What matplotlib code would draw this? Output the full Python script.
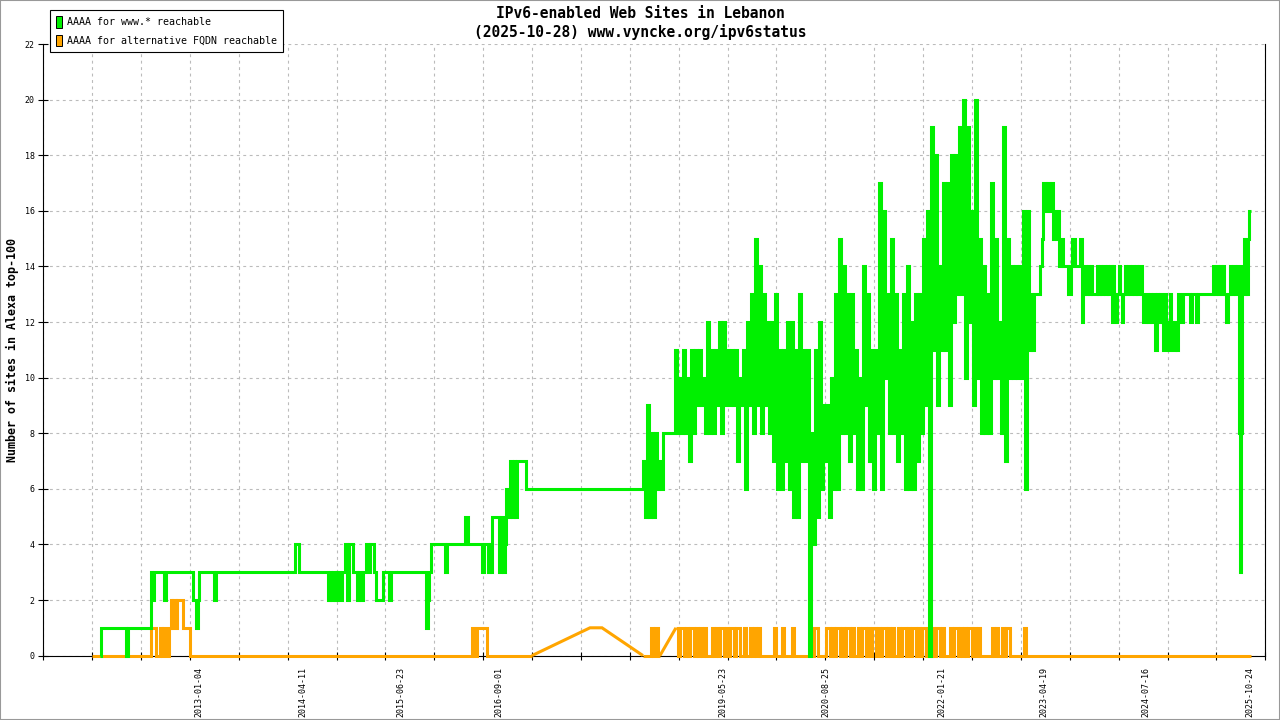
import datetime as dt
import numpy as np
import matplotlib
matplotlib.use("Agg")
import matplotlib.pyplot as plt
import matplotlib.patches as mpatches

# ---------------- data ----------------
TITLE = "IPv6-enabled Web Sites in Lebanon"
SUBTITLE = "(2025-10-28) www.vyncke.org/ipv6status"
YLABEL = "Number of sites in Alexa top-100"
SERIES_NAMES = ["AAAA for www.* reachable", "AAAA for alternative FQDN reachable"]
DATE_LABELS = ["2013-01-04", "2014-04-11", "2015-06-23", "2016-09-01", "2019-05-23",
               "2020-08-25", "2022-01-21", "2023-04-19", "2024-07-16", "2025-10-24"]
Y_TICKS = list(range(0, 23, 2))
X_RANGE = (2011.114, 2025.998)   # decimal years

# www.* series (decimal year, value), step-wise
www_early_years = [2011.804, 2011.817, 2012.121, 2012.146, 2012.426, 2012.438, 2012.462, 2012.584,
                   2012.608, 2012.937, 2012.974, 2012.998, 2013.010, 2013.193, 2013.217, 2014.180,
                   2014.228, 2014.581, 2014.606, 2014.618, 2014.642, 2014.667, 2014.679, 2014.691,
                   2014.703, 2014.728, 2014.752, 2014.789, 2014.813, 2014.837, 2014.886, 2014.935,
                   2014.959, 2014.983, 2015.008, 2015.044, 2015.081, 2015.093, 2015.142, 2015.166,
                   2015.251, 2015.324, 2015.349, 2015.775, 2015.799, 2015.812, 2015.836, 2016.007,
                   2016.031, 2016.250, 2016.287, 2016.457, 2016.481, 2016.530, 2016.555, 2016.567,
                   2016.579, 2016.664, 2016.689, 2016.713, 2016.737, 2016.750, 2016.774, 2016.798,
                   2016.823, 2016.847, 2016.859, 2016.884, 2016.993]
www_early_vals = [0, 1, 0, 1, 3, 2, 3, 2,
                  3, 2, 1, 2, 3, 2, 3, 4,
                  3, 2, 3, 2, 3, 2, 3, 2,
                  3, 2, 3, 4, 2, 4, 3, 2,
                  3, 2, 3, 4, 3, 4, 3, 2,
                  3, 2, 3, 1, 2, 3, 4, 3,
                  4, 5, 4, 3, 4, 3, 4, 3,
                  5, 3, 5, 3, 4, 6, 5, 7,
                  5, 7, 5, 7, 6]

www_dense_start = 2018.418
www_dense_step = 0.02436
www_dense_vals = [
    7, 5, 9, 5, 8, 5, 8, 6, 7, 6, 8, 8, 8, 8, 8, 8, 11, 8, 10, 8,
    11, 8, 10, 7, 11, 8, 11, 9, 11, 9, 10, 8, 12, 8, 11, 8, 11, 9, 12, 8,
    12, 9, 11, 9, 11, 9, 11, 7, 10, 9, 11, 6, 12, 9, 13, 8, 15, 9, 14, 8,
    13, 9, 12, 8, 12, 7, 13, 6, 11, 6, 11, 7, 12, 6, 12, 5, 11, 5, 13, 7,
    11, 7, 11, 0, 8, 4, 11, 5, 12, 6, 9, 7, 9, 5, 10, 6, 13, 6, 15, 8,
    14, 8, 13, 7, 13, 8, 11, 6, 10, 6, 14, 9, 13, 7, 11, 6, 11, 8, 17, 6,
    16, 10, 13, 8, 15, 8, 13, 7, 11, 8, 13, 6, 14, 6, 12, 6, 13, 7, 13, 8,
    15, 9, 16, 0, 19, 11, 18, 9, 14, 11, 17, 11, 17, 9, 18, 12, 18, 13, 19, 13,
    20, 10, 19, 12, 16, 9, 20, 10, 15, 8, 14, 8, 13, 8, 17, 10, 15, 10, 12, 8,
    19, 7, 15, 10, 14, 10, 14, 10, 14, 10, 16, 6, 16, 11]

www_late_years = [2023.144, 2023.156, 2023.181, 2023.254, 2023.278, 2023.290, 2023.327, 2023.339,
                  2023.375, 2023.388, 2023.412, 2023.424, 2023.449, 2023.473, 2023.485, 2023.509,
                  2023.534, 2023.595, 2023.631, 2023.643, 2023.680, 2023.741, 2023.765, 2023.777,
                  2023.802, 2023.814, 2023.838, 2023.850, 2023.875, 2023.887, 2023.948, 2023.960,
                  2023.984, 2023.996, 2024.021, 2024.045, 2024.070, 2024.082, 2024.106, 2024.131,
                  2024.143, 2024.155, 2024.179, 2024.192, 2024.216, 2024.228, 2024.252, 2024.265,
                  2024.289, 2024.301, 2024.325, 2024.350, 2024.374, 2024.399, 2024.423, 2024.435,
                  2024.459, 2024.496, 2024.508, 2024.545, 2024.569, 2024.593, 2024.606, 2024.630,
                  2024.654, 2024.679, 2024.691, 2024.715, 2024.740, 2024.752, 2024.776, 2024.788,
                  2024.813, 2024.837, 2024.849, 2024.874, 2024.898, 2024.922, 2024.934, 2024.959,
                  2024.995, 2025.081, 2025.105, 2025.154, 2025.178, 2025.361, 2025.373, 2025.397,
                  2025.422, 2025.446, 2025.458, 2025.483, 2025.495, 2025.519, 2025.544, 2025.568,
                  2025.580, 2025.604, 2025.629, 2025.653, 2025.677, 2025.690, 2025.702, 2025.714,
                  2025.738, 2025.750, 2025.763, 2025.775, 2025.790, 2025.805, 2025.822]
www_late_vals = [13, 11, 13, 14, 15, 17, 16, 17,
                 16, 17, 15, 16, 15, 16, 14, 15,
                 14, 13, 14, 15, 14, 15, 12, 13,
                 14, 13, 14, 13, 14, 13, 14, 13,
                 14, 13, 14, 13, 14, 13, 14, 12,
                 14, 13, 12, 13, 14, 13, 12, 13,
                 14, 13, 14, 13, 14, 13, 14, 13,
                 14, 13, 12, 13, 12, 13, 12, 13,
                 11, 13, 12, 13, 12, 11, 13, 12,
                 11, 13, 12, 11, 12, 11, 13, 12,
                 13, 12, 13, 12, 13, 14, 13, 14,
                 13, 14, 13, 14, 13, 12, 13, 14,
                 13, 14, 13, 14, 8, 3, 8, 14,
                 15, 13, 14, 13, 15, 16, 16]

# alternative FQDN series
alt_early_years = [2011.707, 2012.426, 2012.487, 2012.535, 2012.560, 2012.572, 2012.608, 2012.645,
                   2012.669, 2012.681, 2012.694, 2012.730, 2012.742, 2012.815, 2012.901, 2016.335,
                   2016.360, 2016.396, 2016.518, 2017.066]
alt_early_vals = [0, 1, 0, 1, 0, 1, 0, 1,
                  2, 1, 2, 1, 2, 1, 0, 1,
                  0, 1, 0, 0]
alt_gap1_years = [2017.066, 2017.773, 2017.919, 2018.418]
alt_gap1_vals = [0, 1, 1, 0]
alt_mid_years = [2018.418, 2018.516, 2018.540, 2018.564, 2018.601, 2018.625]
alt_mid_vals = [0, 1, 0, 1, 0, 0]
alt_gap2_years = [2018.625, 2018.820]
alt_gap2_vals = [0, 1]
alt_dense_start = 2018.820
alt_dense_step = 0.02436
alt_dense_vals = [
    1, 0, 1, 1, 0, 1, 0, 1, 1, 0,
    1, 0, 1, 0, 1, 0, 0, 0, 1, 0,
    1, 0, 1, 1, 0, 1, 0, 1, 1, 0,
    1, 1, 0, 0, 1, 0, 0, 1, 0, 1,
    0, 1, 0, 0, 0, 0, 0, 0, 0, 1,
    0, 0, 0, 1, 0, 0, 0, 0, 1, 0,
    0, 0, 0, 0, 0, 0, 0, 0, 0, 1,
    1, 0, 0, 0, 0, 1, 1, 0, 1, 0,
    1, 1, 0, 1, 0, 1, 1, 0, 1, 0,
    0, 1, 0, 1, 1, 0, 1, 0, 1, 1,
    0, 1, 0, 1, 1, 0, 1, 0, 1, 0,
    0, 1, 0, 1, 1, 0, 1, 0, 1, 1,
    0, 1, 0, 1, 1, 0, 1, 0, 1, 0,
    1, 1, 0, 1, 0, 0, 0, 1, 0, 1,
    1, 0, 1, 0, 1, 0, 1, 1, 0, 1,
    0, 1, 0, 0, 0, 0, 0, 0, 1, 0,
    1, 0, 0, 1, 0, 1, 1, 0, 0, 0,
    0, 0, 0, 0, 1, 0, 0, 0]
alt_late_years = [2023.156, 2025.822]
alt_late_vals = [0, 0]

GREEN = "#00f000"
ORANGE = "#ffa500"


def dec_year(s):
    d = dt.date.fromisoformat(s)
    a = dt.date(d.year, 1, 1)
    b = dt.date(d.year + 1, 1, 1)
    return d.year + (d - a).days / (b - a).days


# ---------------- figure ----------------
W, H = 1280, 720
fig = plt.figure(figsize=(W / 100, H / 100), dpi=100)
fig.patch.set_facecolor("white")
ax = fig.add_axes([43.3 / W, 1 - 655.6 / H, (1265.3 - 43.3) / W, (655.6 - 44) / H])

MONO = "DejaVu Sans Mono"

www_x = np.concatenate([www_early_years,
                        www_dense_start + www_dense_step * np.arange(len(www_dense_vals)),
                        www_late_years])
www_y = np.concatenate([www_early_vals, www_dense_vals, www_late_vals])

lw = 2.2
line_kw = dict(lw=lw, clip_on=False, solid_joinstyle="miter", solid_capstyle="butt")
ax.plot(alt_early_years, alt_early_vals, drawstyle="steps-post", color=ORANGE, zorder=3, **line_kw)
ax.plot(alt_gap1_years, alt_gap1_vals, color=ORANGE, zorder=3, **line_kw)
ax.plot(alt_mid_years, alt_mid_vals, drawstyle="steps-post", color=ORANGE, zorder=3, **line_kw)
ax.plot(alt_gap2_years, alt_gap2_vals, color=ORANGE, zorder=3, **line_kw)
alt_dx = np.concatenate([alt_dense_start + alt_dense_step * np.arange(len(alt_dense_vals)),
                         alt_late_years])
alt_dy = np.concatenate([alt_dense_vals, alt_late_vals])
ax.plot(alt_dx, alt_dy, drawstyle="steps-post", color=ORANGE, zorder=3, **line_kw)

ax.plot(www_x, www_y, drawstyle="steps-post", color=GREEN, zorder=4, **line_kw)

ax.set_xlim(*X_RANGE)
ax.set_ylim(0, 22)

for s in ["left", "right", "bottom"]:
    ax.spines[s].set_color("black")
    ax.spines[s].set_linewidth(0.8)
    ax.spines[s].set_zorder(2)
ax.spines["top"].set_visible(False)

# x axis: date labels (no tick marks) + evenly spaced tick marks with grid
ax.set_xticks([dec_year(s) for s in DATE_LABELS])
ax.set_xticklabels(DATE_LABELS, rotation=90, fontsize=6, family=MONO)
ax.tick_params(axis="x", which="major", length=0, pad=8)
ax.set_xticks(np.linspace(X_RANGE[0], X_RANGE[1], 26), minor=True)
ax.tick_params(axis="x", which="minor", direction="inout", length=5.5, width=0.8, color="black")

ax.set_yticks(Y_TICKS)
ax.set_yticklabels([str(v) for v in Y_TICKS], fontsize=6, family=MONO)
ax.tick_params(axis="y", which="major", direction="inout", length=6.5, width=0.8, pad=3)

grid_kw = dict(color="#bbbbbb", linestyle=(0, (2.6, 3.2)), linewidth=0.8)
ax.grid(axis="y", which="major", **grid_kw)
ax.grid(axis="x", which="minor", **grid_kw)
ax.grid(axis="x", which="major", visible=False)
ax.set_axisbelow(True)

# titles
fig.text(0.5, 1 - 14 / H, TITLE, ha="center", va="center", fontsize=10.5,
         family=MONO, fontweight="bold")
fig.text(0.5, 1 - 32.5 / H, SUBTITLE, ha="center", va="center", fontsize=10.5,
         family=MONO, fontweight="bold")
fig.text(12.5 / W, 1 - 350 / H, YLABEL, rotation=90, ha="center", va="center",
         fontsize=8.4, family=MONO, fontweight="bold")

# legend
handles = [mpatches.Patch(facecolor=GREEN, edgecolor="black", linewidth=0.7),
           mpatches.Patch(facecolor=ORANGE, edgecolor="black", linewidth=0.7)]
leg = fig.legend(handles, SERIES_NAMES, loc="upper left",
                 bbox_to_anchor=(50 / W, 1 - 10 / H), bbox_transform=fig.transFigure,
                 prop={"family": MONO, "size": 7.2}, frameon=True, fancybox=False,
                 edgecolor="black", framealpha=1, borderpad=0.6, handlelength=0.6,
                 handleheight=1.4, handletextpad=0.5, labelspacing=0.7, borderaxespad=0)
leg.get_frame().set_linewidth(0.8)

# outer image border
fig.patches.append(mpatches.Rectangle((0, 0), 1, 1, transform=fig.transFigure, fill=False,
                                      edgecolor="#999999", linewidth=1.5))

fig.savefig("out.png", dpi=100, facecolor="white")
